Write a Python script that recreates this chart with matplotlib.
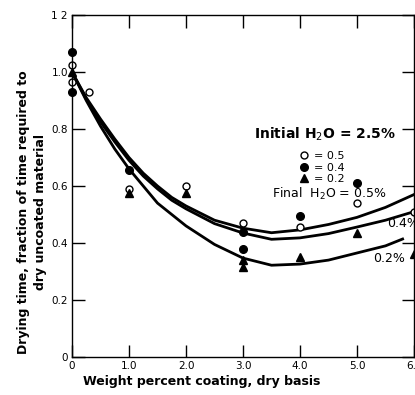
import numpy as np
import matplotlib
matplotlib.use("Agg")
import matplotlib.pyplot as plt

# fitted curves (final H2O levels)
curve_x = [0, 0.25, 0.5, 0.75, 1.0, 1.25, 1.5, 1.75, 2.0, 2.5, 3.0, 3.5, 4.0, 4.5, 5.0, 5.5, 6.0]
curve_05 = [1.0, 0.91, 0.835, 0.765, 0.70, 0.645, 0.60, 0.56, 0.53, 0.48, 0.452, 0.436, 0.446, 0.465, 0.49, 0.525, 0.57]
curve_04 = [1.0, 0.905, 0.825, 0.755, 0.69, 0.635, 0.59, 0.55, 0.52, 0.468, 0.435, 0.413, 0.418, 0.433, 0.456, 0.48, 0.51]
curve_02_x = [0, 0.25, 0.5, 0.75, 1.0, 1.25, 1.5, 1.75, 2.0, 2.5, 3.0, 3.5, 4.0, 4.5, 5.0, 5.5, 5.8]
curve_02 = [1.0, 0.90, 0.81, 0.73, 0.66, 0.60, 0.54, 0.50, 0.46, 0.395, 0.347, 0.322, 0.326, 0.34, 0.365, 0.39, 0.414]

# measured points
open_x = [0, 0, 0.3, 1.0, 2.0, 3.0, 4.0, 5.0, 6.0]
open_y = [1.025, 0.965, 0.93, 0.59, 0.60, 0.47, 0.455, 0.54, 0.51]
filled_x = [0, 0, 1.0, 3.0, 3.0, 4.0, 5.0]
filled_y = [1.07, 0.93, 0.655, 0.44, 0.38, 0.495, 0.61]
tri_x = [0, 1.0, 2.0, 3.0, 3.0, 4.0, 5.0, 6.0]
tri_y = [1.0, 0.575, 0.575, 0.34, 0.315, 0.35, 0.435, 0.36]

xticks = [0, 1, 2, 3, 4, 5, 6]
xticklabels = ["0", "1.0", "2.0", "3.0", "4.0", "5.0", "6.0"]
yticks = [0, 0.2, 0.4, 0.6, 0.8, 1.0, 1.2]
yticklabels = ["0", "0.2", "0.4", "0.6", "0.8", "1.0", "1 2"]

fig = plt.figure(figsize=(4.15, 3.95), dpi=100)
ax = fig.add_axes([72/415, 1-357/395, 342/415, 342/395])

ax.plot(curve_x, curve_05, color="black", lw=2.0)
ax.plot(curve_x, curve_04, color="black", lw=2.0)
ax.plot(curve_02_x, curve_02, color="black", lw=2.0)

h1, = ax.plot(open_x, open_y, "o", ms=5, mfc="white", mec="black", mew=1.0, ls="none", clip_on=False)
h2, = ax.plot(filled_x, filled_y, "o", ms=5.5, color="black", ls="none", clip_on=False)
h3, = ax.plot(tri_x, tri_y, "^", ms=6, color="black", ls="none", clip_on=False)

ax.set_xlim(0, 6.0)
ax.set_ylim(0, 1.2)
ax.set_xticks(xticks)
ax.set_xticklabels(xticklabels)
ax.set_yticks(yticks)
ax.set_yticklabels(yticklabels)
ax.tick_params(direction="in", length=9, width=1, labelsize=7.5, top=True, right=True, pad=3)
for s in ax.spines.values():
    s.set_linewidth(1.0)

fig.text(202/415, 1-382/395, "Weight percent coating, dry basis", fontsize=9,
         fontweight="bold", ha="center", va="center")
fig.text(32/415, 1-212/395, "Drying time, fraction of time required to\ndry uncoated material",
         fontsize=9, fontweight="bold", rotation=90, ha="center", va="center", linespacing=1.35)

# legend: heading as text, entries via legend
fig.text(325/415, 1-134/395, "Initial H$_2$O = 2.5%", fontsize=10, fontweight="bold",
         ha="center", va="center")
leg = ax.legend([h1, h2, h3], ["= 0.5", "= 0.4", "= 0.2"],
                frameon=False, loc="upper center", bbox_to_anchor=(322/415, 1-151/395),
                bbox_transform=fig.transFigure, fontsize=8, handlelength=0.8,
                handletextpad=0.5, labelspacing=0.15, borderpad=0, borderaxespad=0)

ax.text(3.51, 0.572, "Final  H$_2$O = 0.5%", fontsize=9, va="center")
ax.text(5.53, 0.47, "0.4%", fontsize=9, va="center")
ax.text(5.28, 0.347, "0.2%", fontsize=9, va="center")

fig.savefig("out.png", dpi=100)
